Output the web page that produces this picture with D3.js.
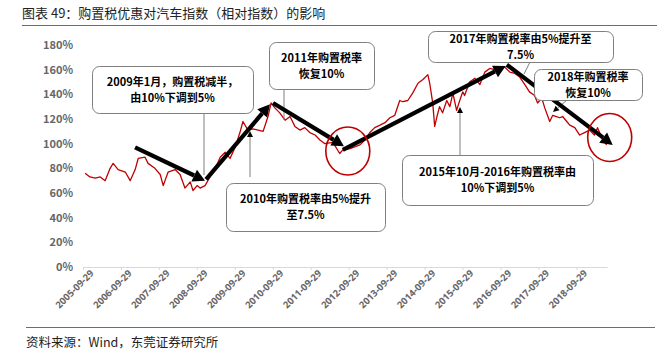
<!DOCTYPE html>
<html>
<head>
<meta charset="utf-8">
<script src="https://cdn.jsdelivr.net/npm/d3@7"></script>
<style>
  body { margin: 0; background: #fff; }
  svg { display: block; font-family: "Noto Sans CJK SC", "Noto Sans", sans-serif; }
</style>
</head>
<body>
<div id="chart"></div>
<script>
// index values (%)
const dates = [
  "2005-10-19","2005-12-05","2006-01-26","2006-03-14","2006-04-30","2006-06-17","2006-07-16","2006-09-02","2006-11-10","2006-12-27",
  "2007-02-13","2007-03-14","2007-05-19","2007-06-17","2007-08-22","2007-10-12","2007-11-10","2007-12-27","2008-03-03","2008-04-20",
  "2008-06-06","2008-07-27","2008-08-22","2008-10-01","2008-10-30","2008-12-16","2009-02-02","2009-03-21","2009-05-11","2009-06-28",
  "2009-08-14","2009-10-01","2009-11-17","2009-12-16","2010-02-02","2010-03-21","2010-05-11","2010-06-28","2010-08-14","2010-09-13",
  "2010-10-19","2010-12-05","2011-01-26","2011-03-14","2011-04-30","2011-06-17","2011-08-03","2011-09-20","2011-11-10","2011-12-27",
  "2012-02-13","2012-04-30","2012-07-04","2012-08-03","2012-10-12","2013-01-15","2013-03-03","2013-04-20","2013-06-06","2013-07-27",
  "2013-09-13","2013-10-30","2013-12-16","2014-02-02","2014-03-03","2014-04-20","2014-06-06","2014-07-27","2014-09-13","2014-10-30",
  "2014-11-17","2014-12-16","2015-01-04","2015-01-26","2015-02-20","2015-03-21","2015-04-30","2015-05-30","2015-06-28","2015-08-03",
  "2015-09-02","2015-10-01","2015-10-19","2015-12-05","2016-01-26","2016-03-14","2016-04-30","2016-06-17","2016-08-03","2016-09-20",
  "2016-11-10","2016-12-27","2017-02-13","2017-04-01","2017-05-19","2017-07-04","2017-08-22","2017-09-20","2017-10-30","2017-11-28",
  "2018-01-15","2018-02-13","2018-03-21","2018-04-20","2018-05-19","2018-06-28","2018-07-27","2018-09-13","2018-10-30","2018-12-16",
  "2019-02-02","2019-03-21","2019-04-20","2019-05-30","2019-07-16"
];
const values = [
  76,73,72,73,70,80,84,79,77,70,
  79,88,89,84,80,75,66,77,79,75,
  64,69,62,66,64,66,73,79,89,93,
  88,97,109,118,111,112,111,110,122,133,
  129,125,119,122,114,111,113,109,107,103,
  100,101,92,95,96,99,103,109,113,115,
  117,121,123,135,134,135,141,149,152,156,
  149,133,114,122,130,125,135,130,141,127,
  135,142,139,150,153,148,158,161,160,161,
  162,158,157,154,148,142,139,133,137,129,
  118,123,122,121,122,118,115,113,107,109,
  111,107,113,105,99
];
const yTicks = [0, 20, 40, 60, 80, 100, 120, 140, 160, 180];
const xTickLabels = ["2005-09-29","2006-09-29","2007-09-29","2008-09-29","2009-09-29","2010-09-29","2011-09-29",
  "2012-09-29","2013-09-29","2014-09-29","2015-09-29","2016-09-29","2017-09-29","2018-09-29"];

const title = "图表 49：购置税优惠对汽车指数（相对指数）的影响";
const source = "资料来源：Wind，东莞证券研究所";

// trend arrows, in data coordinates
const arrows = [
  [["2007-02-12", 97], ["2008-12-16", 70]],
  [["2008-12-26", 71], ["2010-09-02", 132]],
  [["2010-10-01", 133], ["2012-08-14", 98]],
  [["2012-08-03", 95], ["2016-11-17", 163]],
  [["2016-11-28", 164], ["2019-09-13", 99]]
];
const circles = [["2012-09-20", 94], ["2019-08-15", 105]];

// callout boxes (pixel layout)
const notes = [
  { lines: ["2009年1月，购置税减半，", "由10%下调到5%"], x: 92, y: 66, w: 161, h: 47, link: [[204, 113], [204, 175]], head: false },
  { lines: ["2011年购置税率", "恢复10%"], x: 269, y: 42, w: 105, h: 47, link: [[284, 89], [284, 120]], head: false },
  { lines: ["2010年购置税率由5%提升", "至7.5%"], x: 226, y: 183, w: 159, h: 48, link: [[250, 177], [250, 131]], head: true },
  { lines: ["2015年10月-2016年购置税率由", "10%下调到5%"], x: 402, y: 155, w: 191, h: 50, link: [[460, 155], [460, 107]], head: true },
  { lines: ["2017年购置税率由5%提升至", "7.5%"], x: 428, y: 31, w: 185, h: 31, link: [[530, 62], [524, 74]], head: false },
  { lines: ["2018年购置税率", "恢复10%"], x: 534, y: 69, w: 108, h: 31, link: [[567, 100], [553, 112]], head: true }
];
const noteFont = 11, noteLine = 16;

const width = 671, height = 354;
const parse = d3.timeParse("%Y-%m-%d");
const data = dates.map((d, i) => ({ date: parse(d), value: values[i] }));

const svg = d3.select("#chart").append("svg")
  .attr("width", width).attr("height", height);

const x = d3.scaleTime()
  .domain([parse("2005-09-29"), parse("2019-07-20")])
  .range([83, 607]);
const y = d3.scaleLinear().domain([0, 180]).range([267, 45]);

// title + rules
svg.append("text").attr("x", 22).attr("y", 18)
  .attr("font-size", 13).attr("fill", "#222").text(title);
svg.append("line").attr("x1", 22).attr("x2", 657).attr("y1", 25.5).attr("y2", 25.5)
  .attr("stroke", "#e8383d").attr("stroke-width", 1.2);
svg.append("line").attr("x1", 26).attr("x2", 655).attr("y1", 327.5).attr("y2", 327.5)
  .attr("stroke", "#e8383d").attr("stroke-width", 1.2);
svg.append("text").attr("x", 26).attr("y", 347)
  .attr("font-size", 12.5).attr("fill", "#222").text(source);

// y axis labels
svg.append("g").selectAll("text").data(yTicks).join("text")
  .attr("x", 73).attr("y", d => y(d)).attr("dy", "0.36em")
  .attr("text-anchor", "end").attr("font-size", 11).attr("font-weight", "bold")
  .attr("fill", "#666").text(d => d + "%");

// x axis
const xAxis = d3.axisBottom(x)
  .tickValues(xTickLabels.map(parse))
  .tickFormat(d3.timeFormat("%Y-%m-%d"))
  .tickSize(3).tickSizeOuter(0);
const gx = svg.append("g").attr("transform", `translate(0,${y(0)})`).call(xAxis);
gx.select(".domain").attr("stroke", "#d9d9d9");
gx.selectAll(".tick line").attr("stroke", "#d9d9d9");
gx.selectAll(".tick text")
  .attr("font-size", 9.5).attr("font-weight", "bold").attr("fill", "#666")
  .attr("font-family", "'Noto Sans', sans-serif")
  .attr("text-anchor", "end")
  .attr("transform", "translate(2,-2) rotate(-45)")
  .attr("dy", "0.7em");

// index line
const line = d3.line().x(d => x(d.date)).y(d => y(d.value));
svg.append("path").datum(data)
  .attr("d", line).attr("fill", "none")
  .attr("stroke", "#c00000").attr("stroke-width", 1.3).attr("stroke-linejoin", "round");

// helpers
function arrowHead(g, x1, y1, x2, y2, len, half, color) {
  const a = Math.atan2(y2 - y1, x2 - x1);
  const bx = x2 - len * Math.cos(a), by = y2 - len * Math.sin(a);
  const px = -Math.sin(a) * half, py = Math.cos(a) * half;
  g.append("path")
    .attr("d", `M${x2},${y2}L${bx + px},${by + py}L${bx - px},${by - py}Z`)
    .attr("fill", color);
  return [bx, by];
}

// connector lines
const ng = svg.append("g");
notes.forEach(n => {
  const [[ax, ay], [bx, by]] = n.link;
  let ex = bx, ey = by;
  if (n.head) [ex, ey] = arrowHead(ng, ax, ay, bx, by, 6, 3, "#000");
  ng.append("line").attr("x1", ax).attr("y1", ay).attr("x2", ex).attr("y2", ey)
    .attr("stroke", "#7f7f7f").attr("stroke-width", 1);
});

// thick trend arrows
const ag = svg.append("g");
arrows.forEach(([s, e]) => {
  const x1 = x(parse(s[0])), y1 = y(s[1]), x2 = x(parse(e[0])), y2 = y(e[1]);
  const [bx, by] = arrowHead(ag, x1, y1, x2, y2, 12, 6.5, "#000");
  ag.append("line").attr("x1", x1).attr("y1", y1).attr("x2", bx).attr("y2", by)
    .attr("stroke", "#000").attr("stroke-width", 4.2);
});

// red circles
svg.append("g").selectAll("ellipse").data(circles).join("ellipse")
  .attr("cx", d => x(parse(d[0]))).attr("cy", d => y(d[1]))
  .attr("rx", 22).attr("ry", 24)
  .attr("fill", "none").attr("stroke", "#c00000").attr("stroke-width", 1.6);

// callout boxes
notes.forEach(n => {
  const g = svg.append("g");
  g.append("rect").attr("x", n.x + 0.5).attr("y", n.y + 0.5).attr("width", n.w).attr("height", n.h)
    .attr("rx", 7).attr("fill", "#fff").attr("stroke", "#7f7f7f").attr("stroke-width", 1);
  const cy = n.y + n.h / 2 + 0.5;
  const t = g.append("text")
    .attr("text-anchor", "middle")
    .attr("font-size", noteFont).attr("font-weight", "bold").attr("fill", "#000");
  n.lines.forEach((s, i) => {
    t.append("tspan")
      .attr("x", n.x + n.w / 2)
      .attr("y", cy + (i - (n.lines.length - 1) / 2) * noteLine)
      .attr("dy", "0.36em")
      .text(s);
  });
});
</script>
</body>
</html>
